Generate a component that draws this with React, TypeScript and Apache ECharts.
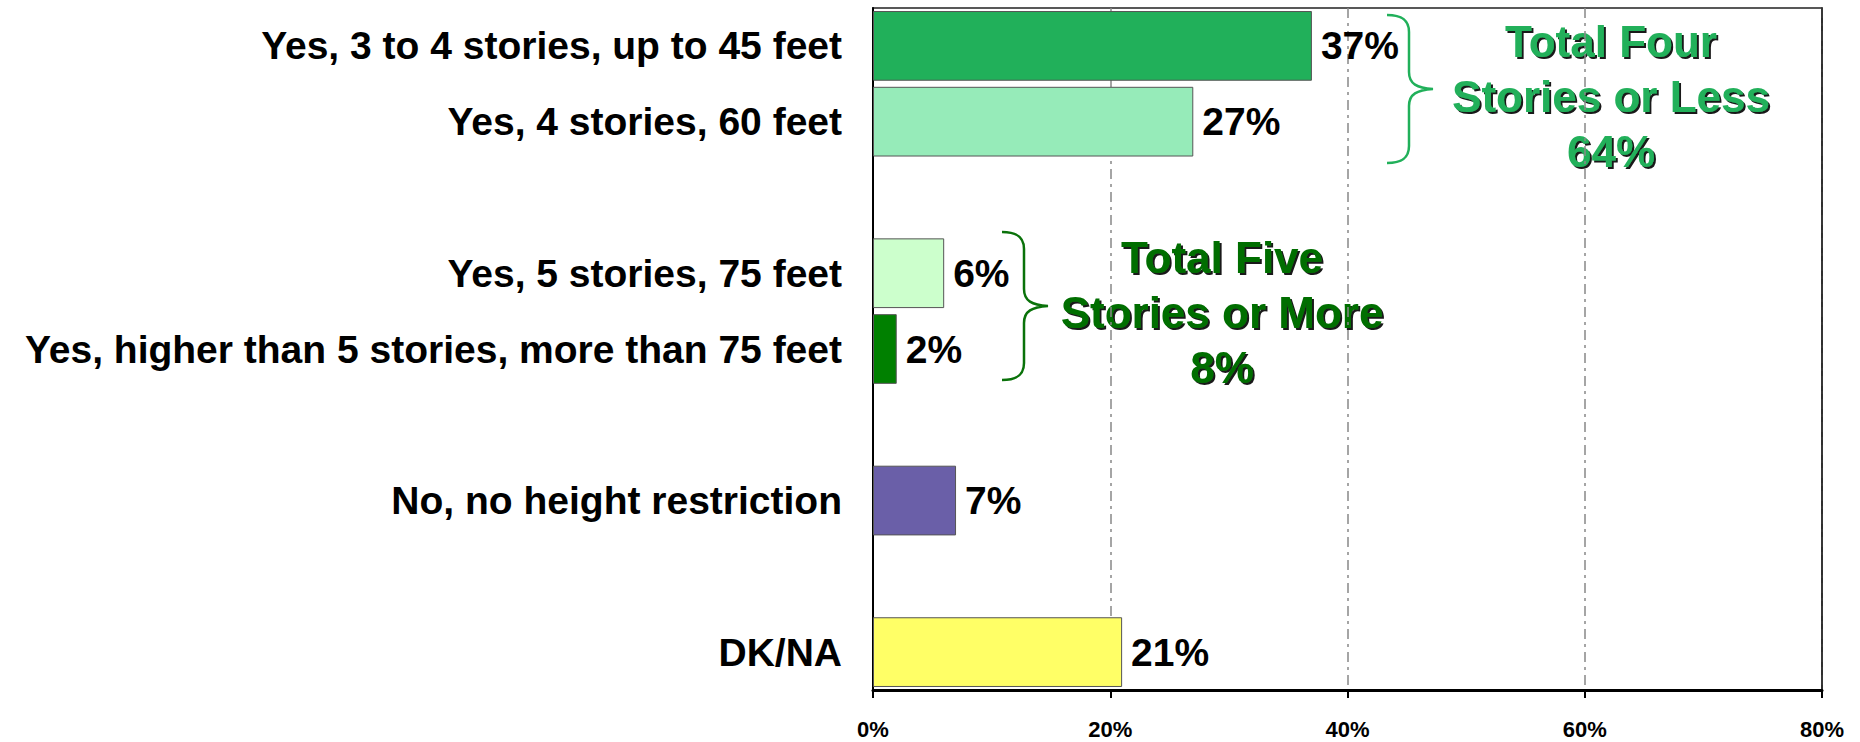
import React, { useEffect, useRef } from 'react';
import * as echarts from 'echarts';

const categories = [
  'Yes, 3 to 4 stories, up to 45 feet',
  'Yes, 4 stories, 60 feet',
  '',
  'Yes, 5 stories, 75 feet',
  'Yes, higher than 5 stories, more than 75 feet',
  ' ',
  'No, no height restriction',
  '  ',
  'DK/NA',
];
const values: (number | null)[] = [37, 27, null, 6, 2, null, 7, null, 21];
const barColors: (string | null)[] = [
  '#21B05A', '#96EBB9', null, '#CCFFCC', '#008000', null, '#6A5FA8', null, '#FFFF66',
];
const xMin = 0;
const xMax = 80;
const xStep = 20;
const noteFour = 'Total Four\nStories or Less\n64%';
const noteFive = 'Total Five\nStories or More\n8%';

const FONT = '"Liberation Sans", Arial, Helvetica, sans-serif';
const BRACE_D =
  'M0,1 C12,1 22,4 22,18 L22,58 C22,70 30,74 46,75 C30,76 22,80 22,92 L22,132 C22,146 12,149 0,149';

let braceRegistered = false;
function ensureBrace() {
  if (braceRegistered) return;
  echarts.graphic.registerShape('brace', echarts.graphic.extendPath(BRACE_D, {}) as any);
  braceRegistered = true;
}

export default function App() {
  const ref = useRef<HTMLDivElement>(null);
  useEffect(() => {
    if (!ref.current) return;
    ensureBrace();
    const chart = echarts.init(ref.current, null, { renderer: 'svg' });
    const data = values.map((v, i) =>
      v == null ? '-' : { value: v, itemStyle: { color: barColors[i] as string } }
    );
    const shadow = {
      textShadowColor: 'rgba(0,0,0,0.9)',
      textShadowOffsetX: 2,
      textShadowOffsetY: 2,
      textShadowBlur: 1,
    };
    chart.setOption({
      animation: false,
      backgroundColor: '#ffffff',
      grid: {
        left: 873,
        right: 38,
        top: 8,
        bottom: 52,
        show: true,
        borderColor: '#222',
        borderWidth: 1.5,
        backgroundColor: 'transparent',
      },
      xAxis: {
        type: 'value',
        min: xMin,
        max: xMax,
        interval: xStep,
        axisLine: { show: true, lineStyle: { color: '#000', width: 3 } },
        axisTick: { show: true, length: 8, lineStyle: { color: '#000', width: 2 } },
        axisLabel: {
          formatter: '{value}%',
          color: '#000',
          fontWeight: 'bold',
          fontSize: 22,
          fontFamily: FONT,
          margin: 28,
        },
        splitLine: {
          show: true,
          lineStyle: { color: '#888', width: 1.5, type: [10, 5, 3, 5] },
        },
      },
      yAxis: [
        {
          type: 'category',
          inverse: true,
          data: categories,
          axisLine: { show: true, lineStyle: { color: '#000', width: 2 } },
          axisTick: { show: false },
          axisLabel: {
            color: '#000',
            fontWeight: 'bold',
            fontSize: 39,
            fontFamily: FONT,
            margin: 31,
          },
          splitLine: { show: false },
        },
        {
          type: 'category',
          inverse: true,
          position: 'right',
          data: categories,
          axisLine: { show: true, lineStyle: { color: '#222', width: 1.5 } },
          axisTick: { show: false },
          axisLabel: { show: false },
          splitLine: { show: false },
        },
      ],
      series: [
        {
          type: 'bar',
          data,
          barCategoryGap: '8%',
          itemStyle: { borderColor: '#555', borderWidth: 1 },
          label: {
            show: true,
            position: 'right',
            distance: 9,
            formatter: '{c}%',
            color: '#000',
            fontWeight: 'bold',
            fontSize: 39,
            fontFamily: FONT,
          },
        },
      ],
      graphic: [
        {
          type: 'brace',
          x: 1387,
          y: 14,
          shape: {},
          style: { stroke: '#21B05A', fill: 'none', lineWidth: 2.5 },
        },
        {
          type: 'brace',
          x: 1002,
          y: 231,
          shape: {},
          style: { stroke: '#0A720A', fill: 'none', lineWidth: 2.5 },
        },
        {
          type: 'text',
          x: 1611,
          y: 96,
          style: {
            text: noteFour,
            fill: '#21B05A',
            font: `bold 44px ${FONT}`,
            align: 'center',
            verticalAlign: 'middle',
            lineHeight: 55,
            ...shadow,
          },
        },
        {
          type: 'text',
          x: 1222,
          y: 312,
          style: {
            text: noteFive,
            fill: '#006E00',
            font: `bold 44px ${FONT}`,
            align: 'center',
            verticalAlign: 'middle',
            lineHeight: 55,
            ...shadow,
          },
        },
      ],
    });
    return () => chart.dispose();
  }, []);
  return (
    <div
      ref={ref}
      style={{ position: 'fixed', left: 0, top: 0, width: 1860, height: 742, background: '#fff' }}
    />
  );
}
